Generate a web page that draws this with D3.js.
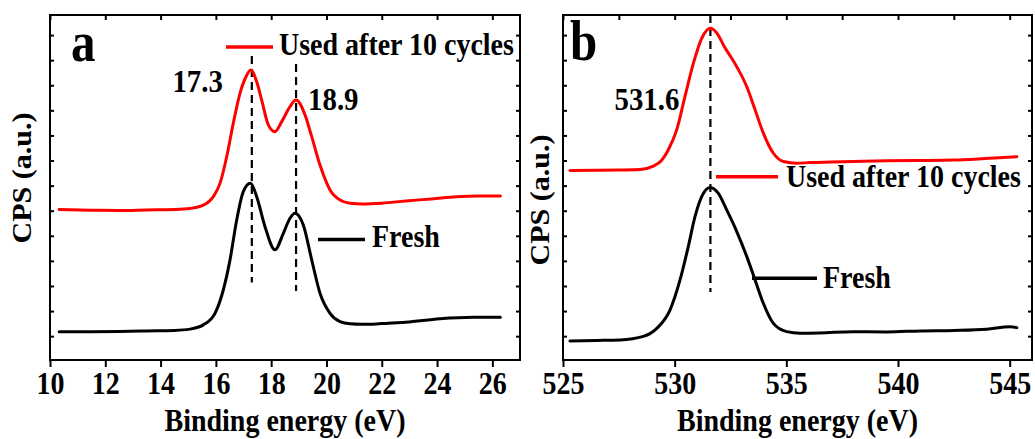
<!DOCTYPE html>
<html>
<head>
<meta charset="utf-8">
<script src="https://cdn.jsdelivr.net/npm/d3@7"></script>
<style>
  html, body { margin: 0; padding: 0; background: #fff; }
  svg { display: block; }
  text { font-family: "Liberation Serif", "Times New Roman", serif; font-weight: 700; fill: #000; }
</style>
</head>
<body>
<svg id="chart" width="1035" height="439"></svg>
<script>
// ---------------- DATA ----------------
// Panel a: valence band region (binding energy, eV) ; intensity in arbitrary units
const aUsedX = [10.33, 11.5, 12.5, 13.5, 14.5, 15.06, 15.545, 15.906, 16.149, 16.391, 16.63, 16.872, 17.089, 17.26, 17.476, 17.657, 17.896, 18.138, 18.381, 18.681, 18.898, 19.223, 19.466, 19.766, 20.128, 20.489, 20.851, 21.3, 22.0, 22.87, 23.8, 24.7, 25.5, 26.29];
const aUsedY = [5.05, 5.02, 5.01, 5.03, 5.05, 5.09, 5.22, 5.56, 6.09, 7.15, 8.49, 9.68, 10.34, 10.61, 10.14, 9.41, 8.42, 8.15, 8.55, 9.15, 9.41, 8.82, 7.95, 6.82, 5.83, 5.43, 5.30, 5.27, 5.30, 5.39, 5.47, 5.56, 5.59, 5.59];
const aFreshX = [10.33, 11.5, 12.5, 13.5, 14.5, 15.06, 15.545, 15.968, 16.268, 16.511, 16.753, 16.992, 17.25, 17.476, 17.777, 18.138, 18.439, 18.681, 18.862, 19.162, 19.466, 19.766, 20.128, 20.489, 20.851, 21.3, 22.0, 22.87, 24.1, 25.3, 26.29];
const aFreshY = [0.18, 0.18, 0.19, 0.21, 0.23, 0.28, 0.45, 0.91, 1.84, 3.04, 4.63, 5.76, 6.09, 5.56, 4.36, 3.44, 4.10, 4.70, 4.90, 4.43, 3.04, 1.71, 0.91, 0.58, 0.49, 0.47, 0.50, 0.55, 0.69, 0.75, 0.75];

// Panel b: O 1s region
const bUsedX = [525.31, 526.5, 527.5, 528.45, 529.04, 529.4, 529.7, 530.09, 530.46, 530.84, 531.21, 531.6, 531.85, 532.25, 532.78, 533.23, 533.6, 533.97, 534.42, 534.87, 535.47, 536.06, 537.0, 538.0, 539.5, 541.0, 542.48, 543.9, 545.32];
const bUsedY = [6.60, 6.61, 6.62, 6.64, 6.78, 6.99, 7.40, 8.22, 9.55, 10.88, 11.87, 12.27, 12.12, 11.50, 10.74, 9.94, 9.02, 8.09, 7.29, 6.96, 6.89, 6.92, 6.94, 6.96, 6.99, 7.00, 7.02, 7.08, 7.15];
const bFreshX = [525.31, 526.5, 527.55, 528.6, 529.2, 529.79, 530.24, 530.61, 530.91, 531.21, 531.58, 531.95, 532.33, 532.78, 533.23, 533.6, 533.97, 534.42, 535.02, 535.61, 536.5, 538.0, 539.5, 540.99, 542.5, 543.97, 545.02, 545.32];
const bFreshY = [-0.19, -0.17, -0.15, -0.01, 0.31, 1.04, 2.24, 3.57, 4.76, 5.56, 5.93, 5.70, 5.03, 4.17, 3.17, 2.24, 1.31, 0.51, 0.18, 0.12, 0.13, 0.18, 0.17, 0.21, 0.23, 0.28, 0.38, 0.34];

// Axis ticks
const aTicks = [10, 12, 14, 16, 18, 20, 22, 24, 26];
const aTopTicks = [10, 12, 14, 16, 18, 20, 22, 24, 26];
const bTicks = [525, 530, 535, 540, 545];
const bTopTicks = [525, 527.5, 530, 532.5, 535, 537.5, 540, 542.5, 545];
const yTicks = [0, 1, 2, 3, 4, 5, 6, 7, 8, 9, 10, 11, 12];

// Peak markers (energy, dashed-line extent in intensity units)
const aPeaks = [17.3, 18.9];
const aPeakTop = [11.17, 10.85];
const aPeakBottom = [2.14, 1.80];
const bPeaks = [531.6];
const bPeakTop = [12.8];
const bPeakBottom = [1.76];

// Texts
const seriesNames = ["Used after 10 cycles", "Fresh"];
const panelLetters = ["a", "b"];
const xTitle = "Binding energy (eV)";
const yTitle = "CPS (a.u.)";

// ---------------- DRAWING ----------------
const svg = d3.select("#chart");
svg.append("rect").attr("width", 1035).attr("height", 439).attr("fill", "#fff");

const TOP = 15, BOTTOM = 360;
const SX = 0.875; // horizontal squeeze of the original figure's lettering
const y = d3.scaleLinear().domain([-0.95, 12.8]).range([BOTTOM, TOP]);

function label(g, x, yy, s, size, anchor, sx) {
  return g.append("text")
    .attr("transform", `translate(${x},${yy}) scale(${sx},1)`)
    .attr("text-anchor", anchor)
    .attr("font-size", size)
    .text(s);
}

function panel(opts) {
  const x = d3.scaleLinear().domain(opts.domain).range([opts.x0, opts.x1]);
  const g = svg.append("g");

  const styleAxis = sel => {
    sel.select(".domain").remove();
    sel.selectAll(".tick line").attr("stroke", "#000").attr("stroke-width", 2);
  };
  g.append("g").attr("transform", `translate(0,${BOTTOM})`)
    .call(d3.axisBottom(x).tickValues(opts.ticks).tickSize(7).tickFormat(d3.format("d")))
    .call(styleAxis)
    .call(s => s.selectAll(".tick text")
      .attr("dy", null).attr("y", null)
      .attr("transform", `translate(0,34) scale(${SX},1)`)
      .attr("font-size", 32)
      .attr("font-family", null)
      .attr("fill", "#000"));
  g.append("g").attr("transform", `translate(0,${TOP})`)
    .call(d3.axisTop(x).tickValues(opts.topTicks).tickSize(-5).tickFormat(""))
    .call(styleAxis);
  g.append("g").attr("transform", `translate(${opts.x0},0)`)
    .call(d3.axisLeft(y).tickValues(yTicks).tickSize(-4).tickFormat(""))
    .call(styleAxis);
  g.append("g").attr("transform", `translate(${opts.x1},0)`)
    .call(d3.axisRight(y).tickValues(yTicks).tickSize(-4).tickFormat(""))
    .call(styleAxis);

  g.append("rect")
    .attr("x", opts.x0).attr("y", TOP)
    .attr("width", opts.x1 - opts.x0).attr("height", BOTTOM - TOP)
    .attr("fill", "none").attr("stroke", "#000").attr("stroke-width", 2);

  opts.peaks.forEach((p, i) => {
    g.append("line")
      .attr("x1", x(p)).attr("x2", x(p))
      .attr("y1", y(opts.peakTop[i])).attr("y2", y(opts.peakBottom[i]))
      .attr("stroke", "#000").attr("stroke-width", 2.2)
      .attr("stroke-dasharray", "8,5");
  });

  const line = d3.line().x(d => x(d[0])).y(d => y(d[1])).curve(d3.curveMonotoneX);
  const series = [
    { xs: opts.usedX, ys: opts.usedY, color: "#ff0000" },
    { xs: opts.freshX, ys: opts.freshY, color: "#000000" }
  ];
  series.forEach(s => {
    g.append("path")
      .datum(s.xs.map((v, i) => [v, s.ys[i]]))
      .attr("d", line)
      .attr("fill", "none")
      .attr("stroke", s.color)
      .attr("stroke-width", 3)
      .attr("stroke-linejoin", "round")
      .attr("stroke-linecap", "round");
  });

  opts.legends.forEach((L, i) => {
    g.append("line")
      .attr("x1", L.lx0).attr("x2", L.lx1).attr("y1", L.ly).attr("y2", L.ly)
      .attr("stroke", i === 0 ? "#ff0000" : "#000").attr("stroke-width", 3.5);
    label(g, L.tx, L.ty, seriesNames[i], 32, "start", SX);
  });

  opts.peakLabels.forEach(P => {
    label(g, x(P.e) + P.dx, P.ty, P.text, 31, P.anchor, 0.93);
  });

  label(g, opts.letterX, opts.letterY, opts.letter, 56, "start", SX);

  label(g, (opts.x0 + opts.x1) / 2, 431, xTitle, 32, "middle", SX);
  g.append("text")
    .attr("transform", `translate(${opts.yTitleX},${opts.yTitleY}) scale(${SX},1) rotate(-90)`)
    .attr("text-anchor", "middle")
    .attr("font-size", 30)
    .text(yTitle);
}

panel({
  domain: [10, 27], x0: 50, x1: 520,
  ticks: aTicks, topTicks: aTopTicks,
  usedX: aUsedX, usedY: aUsedY, freshX: aFreshX, freshY: aFreshY,
  peaks: aPeaks, peakTop: aPeakTop, peakBottom: aPeakBottom,
  legends: [
    { lx0: 226, lx1: 273, ly: 47, tx: 279, ty: 54.5 },
    { lx0: 318, lx1: 365, ly: 239.5, tx: 372, ty: 246.5 }
  ],
  peakLabels: [
    { e: aPeaks[0], dx: -29, ty: 92, text: "17.3", anchor: "end" },
    { e: aPeaks[1], dx: 12, ty: 110, text: "18.9", anchor: "start" }
  ],
  letter: panelLetters[0], letterX: 71, letterY: 61,
  yTitleX: 31, yTitleY: 178
});

panel({
  domain: [525, 546], x0: 563, x1: 1032,
  ticks: bTicks, topTicks: bTopTicks,
  usedX: bUsedX, usedY: bUsedY, freshX: bFreshX, freshY: bFreshY,
  peaks: bPeaks, peakTop: bPeakTop, peakBottom: bPeakBottom,
  legends: [
    { lx0: 716, lx1: 778, ly: 176.7, tx: 786, ty: 187.3 },
    { lx0: 752, lx1: 817, ly: 278.3, tx: 823, ty: 288.3 }
  ],
  peakLabels: [
    { e: bPeaks[0], dx: -31, ty: 110, text: "531.6", anchor: "end" }
  ],
  letter: panelLetters[1], letterX: 570, letterY: 60,
  yTitleX: 549, yTitleY: 200
});
</script>
</body>
</html>
